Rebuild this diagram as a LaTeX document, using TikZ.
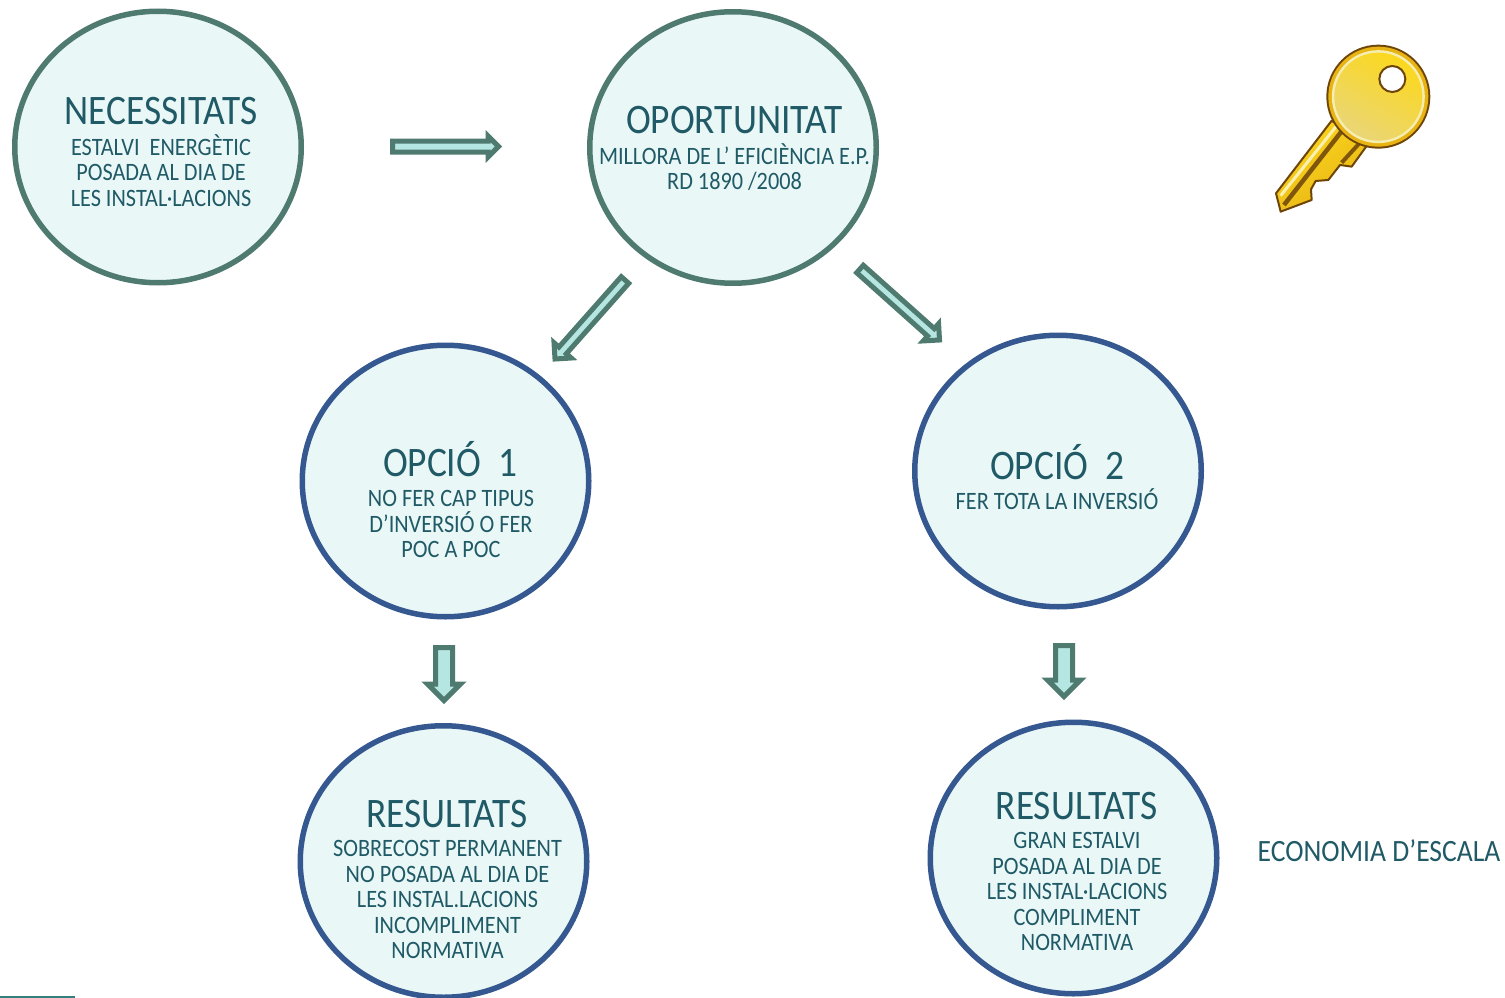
\documentclass[tikz,border=0pt]{standalone}
\usepackage{fontspec}
\setmainfont{Carlito}
\newfontfamily\narrowfont[FakeStretch=0.89]{Carlito}
\usetikzlibrary{calc,shapes.geometric}
\definecolor{greenline}{HTML}{4F7A70}
\definecolor{blueline}{HTML}{34588F}
\definecolor{bubble}{HTML}{EAF7F7}
\definecolor{arrowfill}{HTML}{B5E6E2}
\definecolor{ink}{HTML}{1F5A66}
\definecolor{keybrown}{HTML}{6E4508}
\definecolor{keygold}{HTML}{E8B414}
\definecolor{keyleft}{HTML}{FBD81E}
\definecolor{keyright}{HTML}{EAD676}
\definecolor{keycream}{HTML}{F6EDB0}
\definecolor{keystripe}{HTML}{FBF0B0}
\tikzset{
  bubblegreen/.style={ellipse,draw=greenline,line width=5.5pt,fill=bubble,minimum width=286.5pt,minimum height=271.5pt,inner sep=0pt,outer sep=0pt},
  bubbleblue/.style={bubblegreen,draw=blueline},
  titletext/.style={text=ink,inner sep=0pt,font=\narrowfont\fontsize{42}{42}\selectfont},
  bodytext/.style={text=ink,inner sep=0pt,align=center,font=\narrowfont\fontsize{25}{25.5}\selectfont},
  blockline/.style={draw=greenline,fill=arrowfill,line width=5pt,line join=miter,miter limit=10},
}
% #1 tail, #2 tip, #3 shaft half width, #4 head half width and length
\newcommand{\blockarrow}[4]{%
  \coordinate (hb) at ($(#2)!#4pt!(#1)$);
  \draw[blockline]
    ($(#1)!#3pt!90:(#2)$) -- ($(hb)!#3pt!90:(#2)$) -- ($(hb)!#4pt!90:(#2)$) -- (#2)
    -- ($(hb)!#4pt!-90:(#2)$) -- ($(hb)!#3pt!-90:(#2)$) -- ($(#1)!#3pt!-90:(#2)$) -- cycle;
}
\begin{document}
\begin{tikzpicture}[x=1pt,y=-1pt]
\useasboundingbox (0,0) rectangle (1505,998);

\node[bubblegreen] (nec) at (158,147) {};
\node[bubblegreen] (opo) at (733,147.5) {};
\node[bubbleblue] (op1) at (445.5,481) {};
\node[bubbleblue] (op2) at (1058,471) {};
\node[bubbleblue] (res1) at (443.5,861.5) {};
\node[bubbleblue] (res2) at (1073.5,858) {};

\node[titletext] (t1) at (161,111) {NECESSITATS};
\node[bodytext] (b1) at (161,170.5) {ESTALVI\ \ ENERGÈTIC\\POSADA AL DIA DE\\LES INSTAL·LACIONS};
\node[titletext] (t2) at (734.5,120) {OPORTUNITAT};
\node[bodytext] (b2) at (734.5,167) {MILLORA DE L’ EFICIÈNCIA E.P.\\RD 1890 /2008};
\node[titletext] (t3) at (450,459.5) {OPCIÓ\ \ 1};
\node[bodytext] (b3) at (451,524) {NO FER CAP TIPUS\\D’INVERSIÓ O FER\\POC A POC};
\node[titletext] (t4) at (1057,462.5) {OPCIÓ\ \ 2};
\node[bodytext] (b4) at (1057,499.5) {FER TOTA LA INVERSIÓ};
\node[titletext] (t5) at (447,814) {RESULTATS};
\node[bodytext] (b5) at (447.5,899.5) {SOBRECOST PERMANENT\\NO POSADA AL DIA DE\\LES INSTAL.LACIONS\\INCOMPLIMENT\\NORMATIVA};
\node[titletext] (t6) at (1076.5,806) {RESULTATS};
\node[bodytext] (b6) at (1077,891.5) {GRAN ESTALVI\\POSADA AL DIA DE\\LES INSTAL·LACIONS\\COMPLIMENT\\NORMATIVA};
\node[bodytext,font=\narrowfont\fontsize{31}{33}\selectfont] (eco) at (1379,851) {ECONOMIA D’ESCALA};

\coordinate (a1s) at (392.5,146.5);
\coordinate (a1e) at (498.5,146.5);
\blockarrow{a1s}{a1e}{5.5}{10.5}
\coordinate (a2s) at (625,280);
\coordinate (a2e) at (555,359);
\blockarrow{a2s}{a2e}{5}{11.5}
\coordinate (a3s) at (860,269);
\coordinate (a3e) at (939.5,340);
\blockarrow{a3s}{a3e}{5}{11.5}
\coordinate (a4s) at (444,647.5);
\coordinate (a4e) at (444,700.5);
\blockarrow{a4s}{a4e}{8.5}{16.5}
\coordinate (a5s) at (1064,645.5);
\coordinate (a5e) at (1064,696.5);
\blockarrow{a5s}{a5e}{8.5}{16.5}

\draw[color=teal!60!gray,line width=1.5pt] (0,997) -- (75,997);

% key
\begin{scope}[shift={(1250pt,-30pt)},x=0.3333pt,y=-0.3333pt]
  \coordinate (kc) at (385,200);
  \shade[left color=keyleft,right color=keygold,shading angle=35,draw=keybrown,line width=2pt,line join=round]
    (245,272) -- (78,490) -- (92,545) -- (185,510) -- (183,478) -- (197,453) -- (235,450)
    -- (270,405) -- (305,410) -- (352,345) -- cycle;
  \draw[color=keystripe,line width=3pt] (262,285) -- (92,497);
  \draw[color=keybrown!85!keygold,line width=4.5pt] (278,300) -- (102,525);
  \draw[color=keybrown!85!keygold,line width=4pt] (330,338) -- (275,398);
  \fill[color=keybrown] (kc) circle[radius=52pt];
  \fill[color=keygold] (kc) circle[radius=50pt];
  \fill[color=keycream] (kc) circle[radius=46.5pt];
  \shade[left color=keyleft,right color=keyright,shading angle=-30] (kc) circle[radius=44pt];
  \filldraw[fill=white,draw=keybrown,line width=2pt] (427,147) circle[radius=13pt];
\end{scope}
\end{tikzpicture}
\end{document}
